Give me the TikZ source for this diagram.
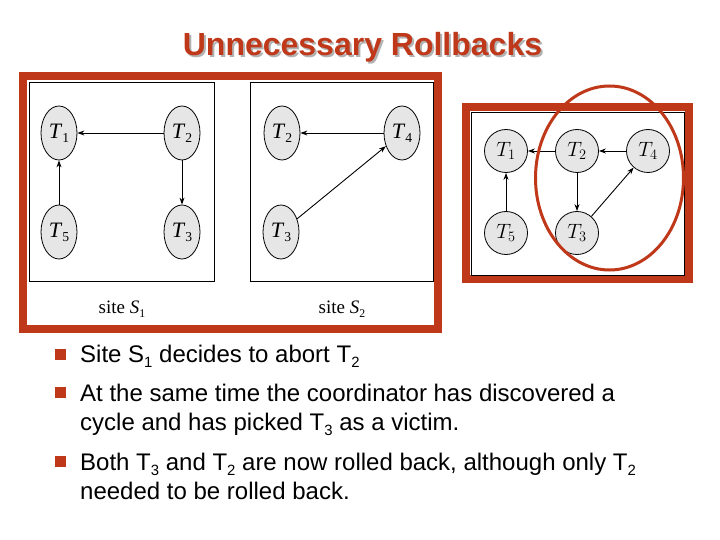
\documentclass[tikz,border=0pt]{standalone}
\usepackage{graphicx}
\usepackage{fontspec}
\setmainfont{Liberation Sans}
\newfontfamily\serifT{Liberation Serif}
\usetikzlibrary{shapes.geometric,arrows.meta}
\definecolor{brick}{HTML}{C0381A}
\definecolor{nodegray}{HTML}{E6E6E6}
\newcommand{\lowsub}[1]{\raisebox{-0.4ex}{\scalebox{0.62}{#1}}}
\newcommand{\TT}[1]{\textit{T}\lowsub{#1}}
\begin{document}
\begin{tikzpicture}[x=1pt,y=-1pt,
  lnode/.style={ellipse, draw, line width=0.8pt, fill=nodegray, minimum width=36pt, minimum height=54pt, inner sep=0pt, font=\serifT\fontsize{22}{22}\selectfont},
  rnode/.style={circle, draw, line width=0.8pt, fill=nodegray, minimum size=43pt, inner sep=0pt, font=\fontsize{20}{20}\selectfont},
  arr/.style={-{Stealth[length=7pt,width=5pt]}, line width=0.9pt},
  box/.style={draw, line width=1pt},
  frame/.style={draw=brick, line width=8pt},
  bullet/.style={fill=brick, minimum size=11pt, inner sep=0pt},
  btext/.style={anchor=base west, inner sep=0pt, font=\fontsize{24}{28}\selectfont},
  sitelabel/.style={font=\serifT\fontsize{19}{19}\selectfont}]
\useasboundingbox[fill=white] (0,0) rectangle (720,540);
% title
\node[font=\fontsize{32}{36}\selectfont\bfseries, text=black!30] (titleshadow) at (364.5,49.5) {Unnecessary Rollbacks};
\node[font=\fontsize{32}{36}\selectfont\bfseries, text=brick] (title) at (362.5,47.5) {Unnecessary Rollbacks};
% left frame
\draw[frame] (23,76) rectangle (438,329);
\draw[box] (29,83) rectangle (214,281);
\draw[box] (250,83) rectangle (433,281);
% site 1
\node[lnode] (a1) at (59,133) {\TT{1}};
\node[lnode] (a2) at (182,133) {\TT{2}};
\node[lnode] (a5) at (59,232) {\TT{5}};
\node[lnode] (a3) at (182,232) {\TT{3}};
\draw[arr] (a2) -- (a1);
\draw[arr] (a5) -- (a1);
\draw[arr] (a2) -- (a3);
\node[sitelabel] (s1) at (122,309) {site \textit{S}\lowsub{1}};
% site 2
\node[lnode] (b2) at (282,133) {\TT{2}};
\node[lnode] (b4) at (402,133) {\TT{4}};
\node[lnode] (b3) at (281,232) {\TT{3}};
\draw[arr] (b4) -- (b2);
\draw[arr] (b3) -- (b4);
\node[sitelabel] (s2) at (342,309) {site \textit{S}\lowsub{2}};
% right global graph
\draw[frame] (466,107) rectangle (689,279);
\draw[line width=0.8pt] (471,112) rectangle (684,275);
\node[rnode] (c1) at (506,151) {$T_1$};
\node[rnode] (c2) at (577,151) {$T_2$};
\node[rnode] (c4) at (648,151) {$T_4$};
\node[rnode] (c5) at (506,233) {$T_5$};
\node[rnode] (c3) at (577,233) {$T_3$};
\draw[arr] (c2) -- (c1);
\draw[arr] (c4) -- (c2);
\draw[arr] (c5) -- (c1);
\draw[arr] (c2) -- (c3);
\draw[arr] (c3) -- (c4);
\draw[brick, line width=3pt] (609.5,178) ellipse [x radius=74, y radius=92];
% bullets
\node[bullet] (q1) at (60.5,354) {};
\node[btext] (t1) at (80,362) {Site S\lowsub{1} decides to abort T\lowsub{2}};
\node[bullet] (q2) at (60.5,392) {};
\node[btext] (t2) at (80,401) {At the same time the coordinator has discovered a};
\node[btext] (t3) at (80,430) {cycle and has picked T\lowsub{3} as a victim.};
\node[bullet] (q3) at (60.5,461) {};
\node[btext] (t4) at (80,470) {Both T\lowsub{3} and T\lowsub{2} are now rolled back, although only T\lowsub{2}};
\node[btext] (t5) at (80,499) {needed to be rolled back.};
\end{tikzpicture}
\end{document}
